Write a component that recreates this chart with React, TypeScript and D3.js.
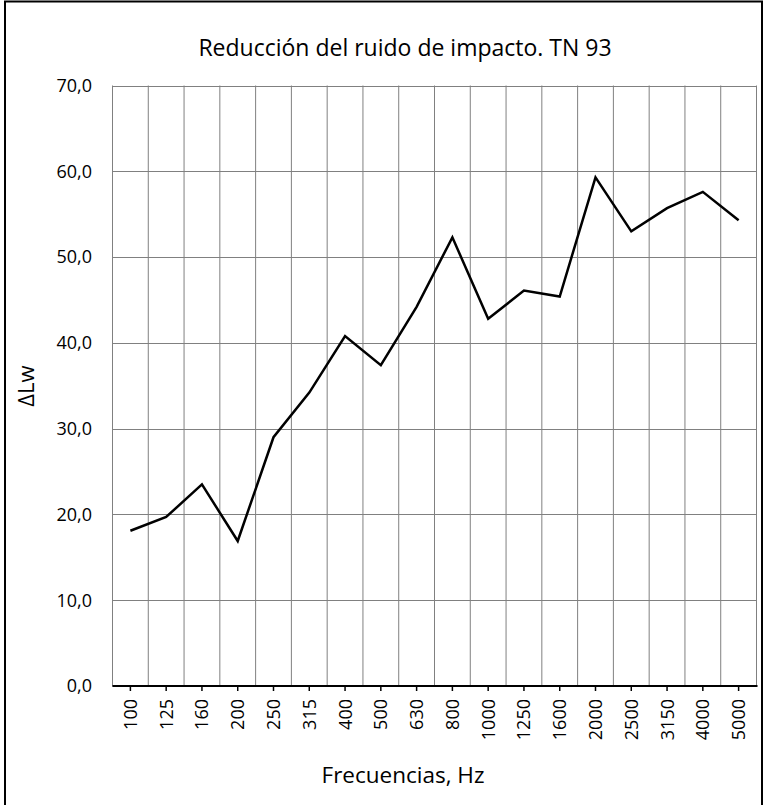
import React, { useEffect, useRef } from 'react';
import * as d3 from 'd3';

const frequencies = ['100', '125', '160', '200', '250', '315', '400', '500', '630', '800', '1000', '1250', '1600', '2000', '2500', '3150', '4000', '5000'];
const deltaLw = [18.1, 19.7, 23.5, 16.9, 29.0, 34.2, 40.8, 37.4, 44.2, 52.3, 42.8, 46.1, 45.4, 59.3, 53.0, 55.7, 57.6, 54.3];
const yTicks = [0, 10, 20, 30, 40, 50, 60, 70];

const FONT = '"Open Sans", "Noto Sans", sans-serif';

const App: React.FC = () => {
  const svgRef = useRef<SVGSVGElement>(null);

  useEffect(() => {
    if (!svgRef.current) return;
    const svg = d3.select(svgRef.current);
    svg.selectAll('*').remove();

    const left = 112.5, right = 756.5, top = 85.5, bottom = 686;

    const x = d3.scaleBand<string>().domain(frequencies).range([left, right]).padding(0);
    const y = d3.scaleLinear().domain([0, 70]).range([bottom, top]);
    const fmt = (v: number) => d3.format('.1f')(v).replace('.', ',');

    // outer frame
    svg.append('rect')
      .attr('x', 5).attr('y', 1.5)
      .attr('width', 757).attr('height', 820)
      .attr('fill', 'none').attr('stroke', '#000').attr('stroke-width', 2);

    // title
    svg.append('text')
      .attr('x', 405).attr('y', 56)
      .attr('text-anchor', 'middle')
      .attr('font-family', FONT).attr('font-size', 23)
      .attr('fill', '#000')
      .text('Reducción del ruido de impacto. TN 93');

    // horizontal gridlines
    svg.append('g').selectAll('line')
      .data(yTicks)
      .join('line')
      .attr('x1', left).attr('x2', right)
      .attr('y1', d => Math.round(y(d)) + 0.5).attr('y2', d => Math.round(y(d)) + 0.5)
      .attr('stroke', '#808080').attr('stroke-width', 1);

    // vertical gridlines at category boundaries
    const bounds = frequencies.map(f => x(f) as number).concat([right]);
    svg.append('g').selectAll('line')
      .data(bounds)
      .join('line')
      .attr('x1', d => d).attr('x2', d => d)
      .attr('y1', top).attr('y2', bottom)
      .attr('stroke', '#808080').attr('stroke-width', 1);

    // y tick labels
    svg.append('g').selectAll('text')
      .data(yTicks)
      .join('text')
      .attr('x', 92).attr('y', d => y(d))
      .attr('dy', '0.35em')
      .attr('text-anchor', 'end')
      .attr('font-family', FONT).attr('font-size', 18)
      .attr('fill', '#000')
      .text(d => fmt(d));

    // x axis line + ticks
    svg.append('line')
      .attr('x1', left).attr('x2', right + 1)
      .attr('y1', bottom).attr('y2', bottom)
      .attr('stroke', '#000').attr('stroke-width', 2.2);

    svg.append('g').selectAll('line')
      .data(frequencies)
      .join('line')
      .attr('x1', d => (x(d) as number) + x.bandwidth() / 2)
      .attr('x2', d => (x(d) as number) + x.bandwidth() / 2)
      .attr('y1', bottom).attr('y2', bottom + 5)
      .attr('stroke', '#000').attr('stroke-width', 1.5);

    // x tick labels (rotated)
    svg.append('g').selectAll('text')
      .data(frequencies)
      .join('text')
      .attr('transform', d => `translate(${(x(d) as number) + x.bandwidth() / 2},699) rotate(-90)`)
      .attr('dy', '0.36em')
      .attr('text-anchor', 'end')
      .attr('font-family', FONT).attr('font-size', 18)
      .attr('fill', '#000')
      .text(d => d);

    // data line
    const line = d3.line<number>()
      .x((_, i) => (x(frequencies[i]) as number) + x.bandwidth() / 2)
      .y(d => y(d));

    svg.append('path')
      .datum(deltaLw)
      .attr('d', line)
      .attr('fill', 'none')
      .attr('stroke', '#000')
      .attr('stroke-width', 2.5)
      .attr('stroke-linejoin', 'miter');

    // axis titles
    svg.append('text')
      .attr('x', 403).attr('y', 783)
      .attr('text-anchor', 'middle')
      .attr('font-family', FONT).attr('font-size', 22.5)
      .attr('fill', '#000')
      .text('Frecuencias, Hz');

    svg.append('text')
      .attr('transform', `translate(34,386) rotate(-90)`)
      .attr('text-anchor', 'middle')
      .attr('font-family', FONT).attr('font-size', 22)
      .attr('fill', '#000')
      .text('ΔLw');
  }, []);

  return (
    <svg
      ref={svgRef}
      width={764}
      height={805}
      style={{ position: 'absolute', left: 0, top: 0, background: '#fff' }}
    ></svg>
  );
};

export default App;
